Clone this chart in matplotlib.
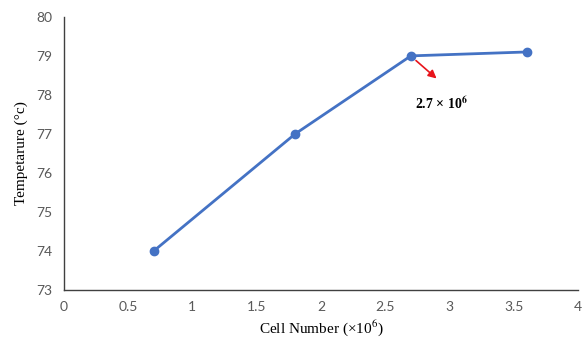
import matplotlib
matplotlib.use("Agg")
import matplotlib.pyplot as plt

plt.rcParams["mathtext.fontset"] = "stix"

cells = [0.7, 1.8, 2.7, 3.6]
temps = [74.0, 77.0, 79.0, 79.1]
xticks = [0, 0.5, 1, 1.5, 2, 2.5, 3, 3.5, 4]
xlabels = ["0", "0.5", "1", "1.5", "2", "2.5", "3", "3.5", "4"]
yticks = [73, 74, 75, 76, 77, 78, 79, 80]

fig = plt.figure(figsize=(5.85, 3.44), dpi=100)
ax = fig.add_axes([0.109, 0.157, 0.879, 0.794])
ax.plot(cells, temps, color="#4472C4", lw=2, marker="o", ms=6)

ax.set_xlim(0, 4)
ax.set_ylim(73, 80)
ax.set_xticks(xticks, xlabels)
ax.set_yticks(yticks)
ax.tick_params(length=0, pad=8, labelsize=10, labelcolor="#595959")
for lbl in ax.get_xticklabels() + ax.get_yticklabels():
    lbl.set_family("Lato")
for s in ["top", "right"]:
    ax.spines[s].set_visible(False)
for s in ["left", "bottom"]:
    ax.spines[s].set_color("#404040")
    ax.spines[s].set_linewidth(1)

ax.set_xlabel("Cell Number (×10$^{6}$)", family="Liberation Serif", fontsize=11, labelpad=4)
ax.set_ylabel("Tempetarure (°c)", family="Liberation Serif", fontsize=11, labelpad=6)

# highlight arrow
ax.annotate("", xy=(2.9, 78.42), xytext=(2.74, 78.88),
            arrowprops=dict(arrowstyle="-|>", color="#E8141B", lw=1.2, mutation_scale=12,
                            shrinkA=0, shrinkB=0))
ax.text(2.94, 77.78, "2.7 × 10$^{\\mathbf{6}}$", family="Liberation Serif", fontweight="bold",
        fontsize=10, ha="center", va="center")

fig.savefig("out.png", dpi=100)
